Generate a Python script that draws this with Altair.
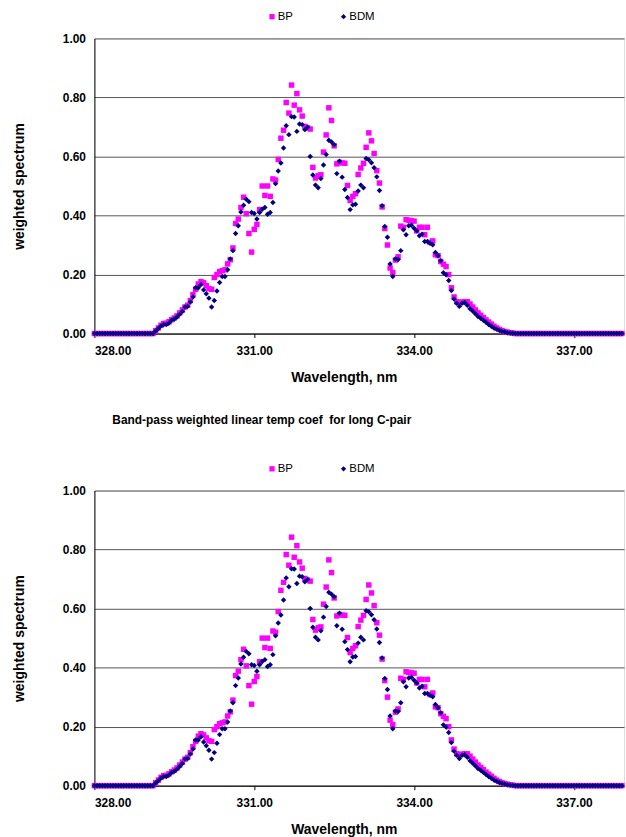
import altair as alt
import pandas as pd

# ---------------- data ----------------
wavelength = [
    328.00, 328.05, 328.10, 328.15, 328.20, 328.25, 328.30, 328.35, 328.40, 328.45,
    328.50, 328.55, 328.60, 328.65, 328.70, 328.75, 328.80, 328.85, 328.90, 328.95,
    329.00, 329.05, 329.10, 329.15, 329.20, 329.25, 329.30, 329.35, 329.40, 329.45,
    329.50, 329.55, 329.60, 329.65, 329.70, 329.75, 329.80, 329.85, 329.90, 329.95,
    330.00, 330.05, 330.10, 330.15, 330.20, 330.25, 330.30, 330.35, 330.40, 330.45,
    330.50, 330.55, 330.60, 330.65, 330.70, 330.75, 330.80, 330.85, 330.90, 330.95,
    331.00, 331.05, 331.10, 331.15, 331.20, 331.25, 331.30, 331.35, 331.40, 331.45,
    331.50, 331.55, 331.60, 331.65, 331.70, 331.75, 331.80, 331.85, 331.90, 331.95,
    332.00, 332.05, 332.10, 332.15, 332.20, 332.25, 332.30, 332.35, 332.40, 332.45,
    332.50, 332.55, 332.60, 332.65, 332.70, 332.75, 332.80, 332.85, 332.90, 332.95,
    333.00, 333.05, 333.10, 333.15, 333.20, 333.25, 333.30, 333.35, 333.40, 333.45,
    333.50, 333.55, 333.60, 333.65, 333.70, 333.75, 333.80, 333.85, 333.90, 333.95,
    334.00, 334.05, 334.10, 334.15, 334.20, 334.25, 334.30, 334.35, 334.40, 334.45,
    334.50, 334.55, 334.60, 334.65, 334.70, 334.75, 334.80, 334.85, 334.90, 334.95,
    335.00, 335.05, 335.10, 335.15, 335.20, 335.25, 335.30, 335.35, 335.40, 335.45,
    335.50, 335.55, 335.60, 335.65, 335.70, 335.75, 335.80, 335.85, 335.90, 335.95,
    336.00, 336.05, 336.10, 336.15, 336.20, 336.25, 336.30, 336.35, 336.40, 336.45,
    336.50, 336.55, 336.60, 336.65, 336.70, 336.75, 336.80, 336.85, 336.90, 336.95,
    337.00, 337.05, 337.10, 337.15, 337.20, 337.25, 337.30, 337.35, 337.40, 337.45,
    337.50, 337.55, 337.60, 337.65, 337.70, 337.75, 337.80, 337.85, 337.90,
]

bp = [
    0, 0, 0, 0, 0, 0, 0, 0, 0, 0, 0, 0, 0, 0, 0, 0, 0, 0, 0, 0,
    0, 0, 0, 0.010, 0.019, 0.028, 0.034, 0.035, 0.040, 0.047,
    0.053, 0.060, 0.070, 0.080, 0.090, 0.096, 0.112, 0.132, 0.150, 0.168,
    0.176, 0.172, 0.162, 0.152, 0.150, 0.190, 0.200, 0.210, 0.213, 0.216,
    0.236, 0.250, 0.290, 0.373, 0.388, 0.427, 0.462, 0.406, 0.339, 0.276,
    0.353, 0.370, 0.420, 0.500, 0.468, 0.500, 0.465, 0.524, 0.520, 0.590,
    0.662, 0.689, 0.783, 0.747, 0.842, 0.774, 0.813, 0.758, 0.737, 0.702,
    0.697, 0.693, 0.563, 0.527, 0.535, 0.538, 0.615, 0.673, 0.765, 0.722,
    0.636, 0.575, 0.580, 0.578, 0.577, 0.502, 0.451, 0.465, 0.474, 0.539,
    0.561, 0.577, 0.631, 0.680, 0.653, 0.610, 0.552, 0.510, 0.429, 0.356,
    0.300, 0.222, 0.207, 0.249, 0.260, 0.364, 0.360, 0.386, 0.384, 0.382,
    0.381, 0.348, 0.360, 0.360, 0.335, 0.360, 0.309, 0.314, 0.267, 0.264,
    0.244, 0.235, 0.227, 0.200, 0.155, 0.124, 0.108, 0.105, 0.107, 0.108,
    0.108, 0.100, 0.090, 0.080, 0.070, 0.062, 0.054, 0.046, 0.039, 0.032,
    0.025, 0.019, 0.014, 0.010, 0.007, 0.005, 0.003, 0.002, 0, 0,
    0, 0, 0, 0, 0, 0, 0, 0, 0, 0, 0, 0, 0, 0, 0, 0, 0, 0, 0, 0,
    0, 0, 0, 0, 0, 0, 0, 0, 0, 0, 0, 0, 0, 0, 0, 0, 0, 0, 0,
]

bdm = [
    0, 0, 0, 0, 0, 0, 0, 0, 0, 0, 0, 0, 0, 0, 0, 0, 0, 0, 0, 0,
    0, 0, 0, 0.009, 0.017, 0.026, 0.031, 0.031, 0.036, 0.045,
    0.049, 0.056, 0.065, 0.075, 0.090, 0.092, 0.107, 0.124, 0.155, 0.155,
    0.166, 0.148, 0.135, 0.120, 0.090, 0.112, 0.144, 0.173, 0.193, 0.193,
    0.216, 0.253, 0.281, 0.339, 0.365, 0.412, 0.435, 0.455, 0.447, 0.410,
    0.407, 0.388, 0.410, 0.421, 0.427, 0.404, 0.410, 0.444, 0.508, 0.551,
    0.578, 0.629, 0.704, 0.674, 0.735, 0.734, 0.685, 0.710, 0.708, 0.691,
    0.699, 0.600, 0.537, 0.503, 0.494, 0.525, 0.571, 0.607, 0.655, 0.649,
    0.640, 0.542, 0.584, 0.530, 0.488, 0.461, 0.420, 0.436, 0.438, 0.483,
    0.503, 0.494, 0.593, 0.589, 0.579, 0.562, 0.531, 0.485, 0.433, 0.363,
    0.326, 0.236, 0.193, 0.253, 0.251, 0.281, 0.352, 0.335, 0.365, 0.367,
    0.357, 0.348, 0.331, 0.337, 0.312, 0.312, 0.306, 0.301, 0.275, 0.264,
    0.247, 0.206, 0.199, 0.180, 0.146, 0.117, 0.103, 0.092, 0.103, 0.105,
    0.096, 0.084, 0.076, 0.067, 0.058, 0.052, 0.045, 0.038, 0.031, 0.025,
    0.019, 0.015, 0.011, 0.008, 0.006, 0.003, 0.002, 0.001, 0, 0,
    0, 0, 0, 0, 0, 0, 0, 0, 0, 0, 0, 0, 0, 0, 0, 0, 0, 0, 0, 0,
    0, 0, 0, 0, 0, 0, 0, 0, 0, 0, 0, 0, 0, 0, 0, 0, 0, 0, 0,
]

series_names = ["BP", "BDM"]
series_colors = ["#FF00FF", "#000080"]
series_shapes = ["square", "diamond"]
x_ticks = [328, 331, 334, 337]
y_ticks = [0.0, 0.2, 0.4, 0.6, 0.8, 1.0]
x_title = "Wavelength, nm"
y_title = "weighted spectrum"
middle_title = "Band-pass weighted linear temp coef \u00a0for long C-pair"

df = pd.DataFrame({
    "wavelength": wavelength + wavelength,
    "value": bp + bdm,
    "series": ["BP"] * len(bp) + ["BDM"] * len(bdm),
})

FONT = "Liberation Sans"
PLOT_W = 533
PLOT_H = 297


def panel(title=None):
    legend = alt.Legend(
        title=None, orient="none", legendX=173, legendY=-28,
        direction="horizontal", symbolSize=28, symbolStrokeWidth=0,
        labelFont=FONT, labelFontSize=11.5, labelColor="black",
        labelOffset=0, columnPadding=45, padding=0,
    )
    ch = alt.Chart(df).mark_point(filled=True, size=30, opacity=1).encode(
        x=alt.X(
            "wavelength:Q",
            scale=alt.Scale(domain=[328, 337.94], nice=False, zero=False),
            axis=alt.Axis(
                values=x_ticks, format=".2f", title=x_title, grid=False,
                ticks=True, tickSize=4, tickColor="black", domainColor="black",
                labelFont=FONT, labelFontSize=12, labelFontWeight="bold",
                labelColor="black", labelPadding=8,
                titleFont=FONT, titleFontSize=14, titleFontWeight="bold",
                titleColor="black", titlePadding=14, titleX=251,
            ),
        ),
        y=alt.Y(
            "value:Q",
            scale=alt.Scale(domain=[0, 1], nice=False),
            axis=alt.Axis(
                values=y_ticks, format=".2f", title=y_title, grid=True,
                gridColor="#555555", gridWidth=1, ticks=False,
                domainColor="black", labelFont=FONT, labelFontSize=12,
                labelFontWeight="bold", labelColor="black", labelPadding=9,
                titleFont=FONT, titleFontSize=14, titleFontWeight="bold",
                titleColor="black", titlePadding=36,
            ),
        ),
        color=alt.Color(
            "series:N",
            scale=alt.Scale(domain=series_names, range=series_colors),
            legend=legend,
        ),
        shape=alt.Shape(
            "series:N",
            scale=alt.Scale(domain=series_names, range=series_shapes),
            legend=legend,
        ),
    ).properties(width=PLOT_W, height=PLOT_H)
    if title is not None:
        ch = ch.properties(
            title=alt.TitleParams(
                text=title, anchor="start", frame="group", dx=18, offset=36,
                font=FONT, fontSize=12, fontWeight="bold", color="black",
            )
        )
    return ch


chart = (
    alt.vconcat(panel(), panel(middle_title), spacing=28)
    .resolve_legend(color="independent", shape="independent")
    .properties(padding={"left": 12, "top": 7, "right": 0, "bottom": 0})
    .configure_view(stroke=None)
    .configure(background="white")
)

chart.save("out.html", embed_options={"renderer": "svg", "actions": False})
